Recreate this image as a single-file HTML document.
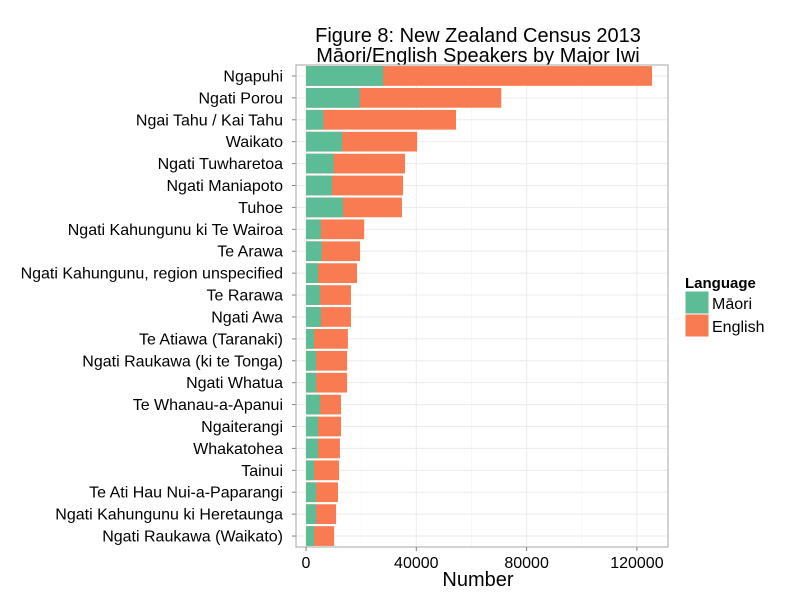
<!DOCTYPE html>
<html><head><meta charset="utf-8"><style>
body{margin:0;background:#fff;}
text{font-family:"Liberation Sans",Arial,sans-serif;}
</style></head><body>
<svg id="chart" width="800" height="600" xmlns="http://www.w3.org/2000/svg">
<rect width="800" height="600" fill="#fff"/>
<text x="478" y="42" text-anchor="middle" font-size="20">Figure 8: New Zealand Census 2013</text>
<text x="478" y="62" text-anchor="middle" font-size="20">Māori/English Speakers by Major Iwi</text>
<g id="plot"></g>
<text x="478" y="586" text-anchor="middle" font-size="20">Number</text>
<text x="685" y="288" font-size="15" font-weight="bold">Language</text>
<rect x="685" y="291" width="24" height="23" fill="#5cbc96" stroke="#fff"/>
<text x="712" y="309" font-size="16">Māori</text>
<rect x="685" y="314" width="24" height="23" fill="#f97b52" stroke="#fff"/>
<text x="712" y="332" font-size="16">English</text>
</svg>
<script>
const categories=["Ngapuhi","Ngati Porou","Ngai Tahu / Kai Tahu","Waikato","Ngati Tuwharetoa","Ngati Maniapoto","Tuhoe","Ngati Kahungunu ki Te Wairoa","Te Arawa","Ngati Kahungunu, region unspecified","Te Rarawa","Ngati Awa","Te Atiawa (Taranaki)","Ngati Raukawa (ki te Tonga)","Ngati Whatua","Te Whanau-a-Apanui","Ngaiterangi","Whakatohea","Tainui","Te Ati Hau Nui-a-Paparangi","Ngati Kahungunu ki Heretaunga","Ngati Raukawa (Waikato)"];
const maoriValues=[28000,19500,6300,13100,10000,9400,13400,5400,5700,4400,5100,5400,2900,3600,3600,5100,4400,4400,2900,3600,3600,2900];
const totalValues=[125500,70800,54400,40300,35900,35200,34800,21100,19600,18500,16300,16300,15200,14900,14900,12700,12700,12300,12000,11600,10900,10200];
const xTicks=[0,40000,80000,120000];
const xTickLabels=["0","40000","80000","120000"];
const NS="http://www.w3.org/2000/svg";
const L=296,R=668,T=65,B=547,x0=306,pxPer=110.3/40000;
const band=(B-T)/categories.length;
const xs=v=>x0+v*pxPer;
const ys=i=>T+band*i+band/2;
const g=document.getElementById('plot');
function mk(tag,attrs){const e=document.createElementNS(NS,tag);for(const k in attrs)e.setAttribute(k,attrs[k]);g.appendChild(e);return e;}
let e=mk('rect',{x:L,y:T,width:R-L,height:B-T,fill:'#fff'});


for(let v=20000;v<=130000;v+=40000){if(xs(v)<R){e=mk('line',{x1:xs(v),x2:xs(v),y1:T,y2:B,stroke:'#f4f4f4','stroke-width':0.6});

}}
xTicks.forEach(v=>{e=mk('line',{x1:xs(v),x2:xs(v),y1:T,y2:B,stroke:'#ebebeb','stroke-width':1});

});
categories.forEach((c,i)=>{e=mk('line',{x1:L,x2:R,y1:ys(i),y2:ys(i),stroke:'#ebebeb','stroke-width':1});

});
const bh=band*0.9;
categories.forEach((c,i)=>{
 let r=mk('rect',{x:xs(0),y:ys(i)-bh/2,width:xs(totalValues[i])-xs(0),height:bh,fill:'#f97b52'});
 
 
 r=mk('rect',{x:xs(0),y:ys(i)-bh/2,width:xs(maoriValues[i])-xs(0),height:bh,fill:'#5cbc96'});
 
 
 const t=mk('text',{x:283,y:ys(i)+5.5,'text-anchor':'end','font-size':16,fill:'#000'});t.textContent=c;
 
 
 e=mk('line',{x1:L-4,x2:L,y1:ys(i),y2:ys(i),stroke:'#7f7f7f'});
 
 
});
e=mk('rect',{x:L,y:T,width:R-L,height:B-T,fill:'none',stroke:'#b3b3b3','stroke-width':1.2});


xTicks.forEach((v,i)=>{
 e=mk('line',{x1:xs(v),x2:xs(v),y1:B,y2:B+4,stroke:'#7f7f7f'});
 
 
 const t=mk('text',{x:xs(v),y:568,'text-anchor':'middle','font-size':16});t.textContent=xTickLabels[i];
 
 
});
</script>
</body></html>
